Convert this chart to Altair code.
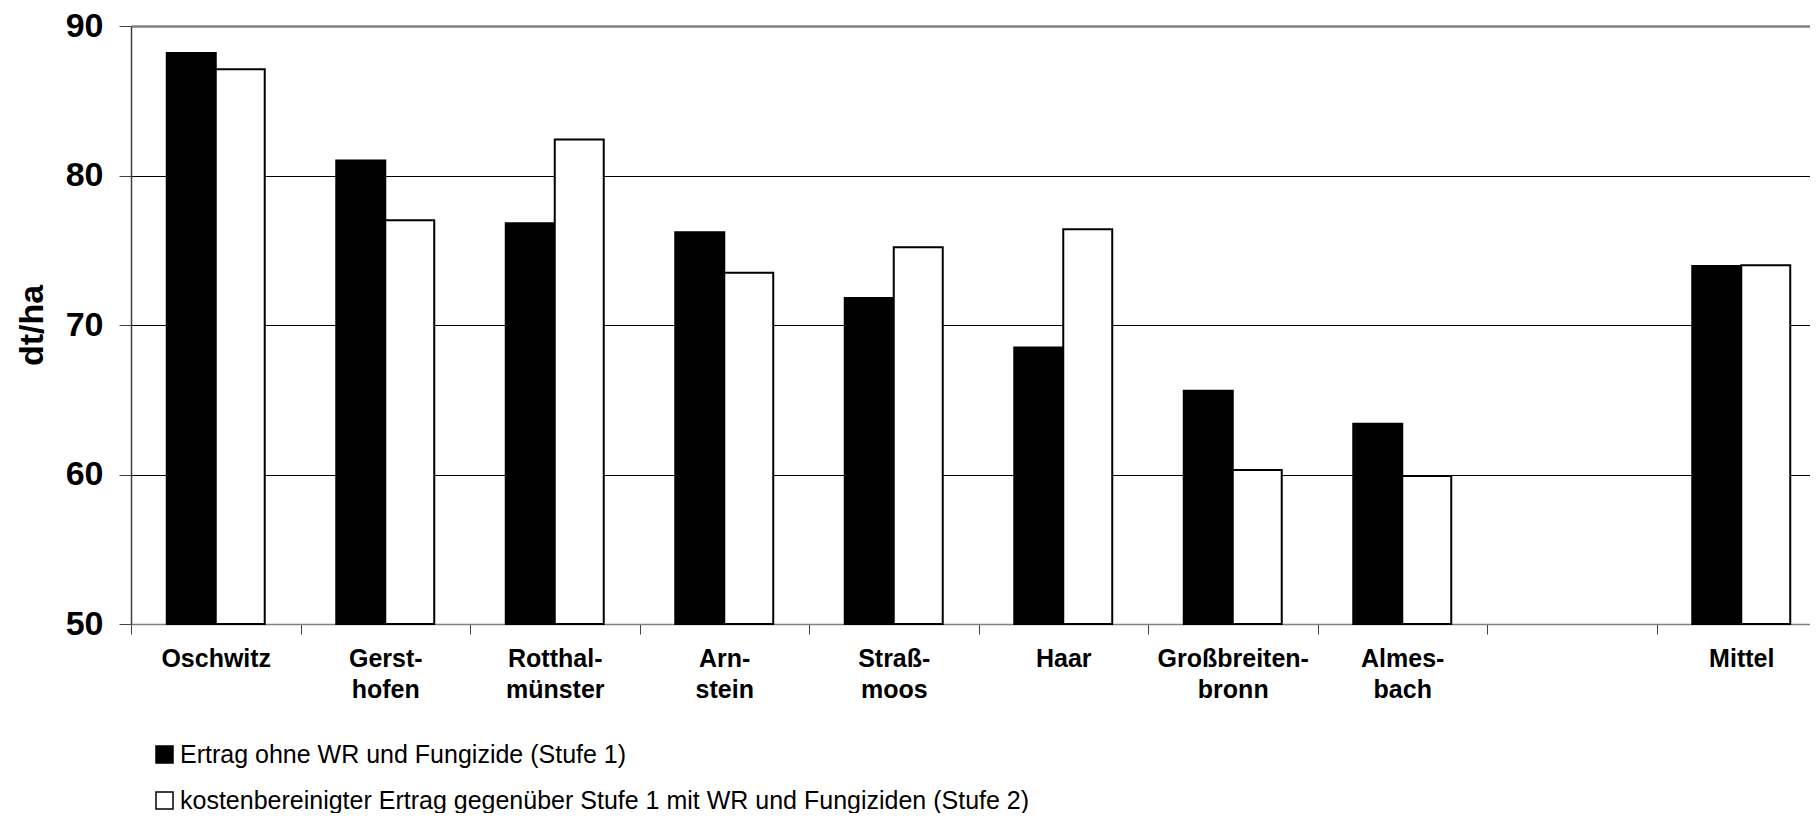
import altair as alt
import pandas as pd

categories = ["Oschwitz", "Gerst-|hofen", "Rotthal-|münster", "Arn-|stein", "Straß-|moos",
              "Haar", "Großbreiten-|bronn", "Almes-|bach", " ", "Mittel"]
sites = ["Oschwitz", "Gerst-|hofen", "Rotthal-|münster", "Arn-|stein", "Straß-|moos",
         "Haar", "Großbreiten-|bronn", "Almes-|bach", "Mittel"]
series_names = ["Ertrag ohne WR und Fungizide (Stufe 1)",
                "kostenbereinigter Ertrag gegenüber Stufe 1 mit WR und Fungiziden (Stufe 2)"]
stufe1 = [88.2, 81.0, 76.8, 76.2, 71.8, 68.5, 65.6, 63.4, 73.95]
stufe2 = [87.1, 77.0, 82.4, 73.5, 75.2, 76.4, 60.3, 59.9, 74.0]
y_ticks = [50, 60, 70, 80, 90]

rows = []
for s, a, b in zip(sites, stufe1, stufe2):
    rows.append({"site": s, "series": series_names[0], "value": a})
    rows.append({"site": s, "series": series_names[1], "value": b})
df = pd.DataFrame(rows)

FONT = "Liberation Sans"

chart = alt.Chart(df).mark_bar(stroke="black", strokeWidth=2).encode(
    x=alt.X("site:N", sort=categories,
            scale=alt.Scale(domain=categories, paddingInner=0, paddingOuter=0),
            axis=alt.Axis(title=None, labelAngle=0, tickBand="extent",
                          labelExpr="split(datum.label, '|')",
                          labelFont=FONT, labelFontWeight="bold", labelFontSize=25,
                          labelLineHeight=31, labelPadding=12, labelColor="black",
                          labelLimit=400,
                          tickSize=10, tickColor="#404040", tickWidth=1,
                          domainColor="#808080", domainWidth=1.5, grid=False)),
    xOffset=alt.XOffset("series:N", sort=series_names,
                        scale=alt.Scale(domain=series_names, paddingInner=0, paddingOuter=0.73)),
    y=alt.Y("value:Q",
            scale=alt.Scale(domain=[50, 90], zero=False, nice=False),
            axis=alt.Axis(values=y_ticks, title="dt/ha", format="d",
                          labelFont=FONT, labelFontWeight="bold", labelFontSize=34,
                          labelColor="black", labelPadding=16,
                          tickSize=12, tickColor="#404040", tickWidth=1,
                          domainColor="#404040", domainWidth=1.5,
                          titleFont=FONT, titleFontWeight="bold", titleFontSize=34,
                          titleColor="black", titlePadding=16,
                          grid=True,
                          gridColor={"condition": {"test": "datum.value == 90 || datum.value == 50",
                                                   "value": "#808080"}, "value": "black"},
                          gridWidth={"condition": {"test": "datum.value == 90", "value": 2.5},
                                     "value": 1})),
    y2=alt.datum(50),
    color=alt.Color("series:N",
                    scale=alt.Scale(domain=series_names, range=["black", "white"]),
                    legend=alt.Legend(title=None, orient="none", legendX=21, legendY=716,
                                      direction="vertical", symbolType="square",
                                      symbolSize=289, symbolStrokeColor="black",
                                      symbolStrokeWidth=1.5, labelFont=FONT,
                                      labelFontSize=25, labelColor="black",
                                      labelLimit=2000, rowPadding=20, labelOffset=3,
                                      padding=0, offset=0)),
).properties(
    width=1695, height=598,
    autosize=alt.AutoSizeParams(type="none"),
    padding={"left": 123, "top": 18, "right": -16, "bottom": 189},
    background="white",
).configure_view(strokeWidth=0)

chart.save("out.html", embed_options={"renderer": "svg", "actions": False})
